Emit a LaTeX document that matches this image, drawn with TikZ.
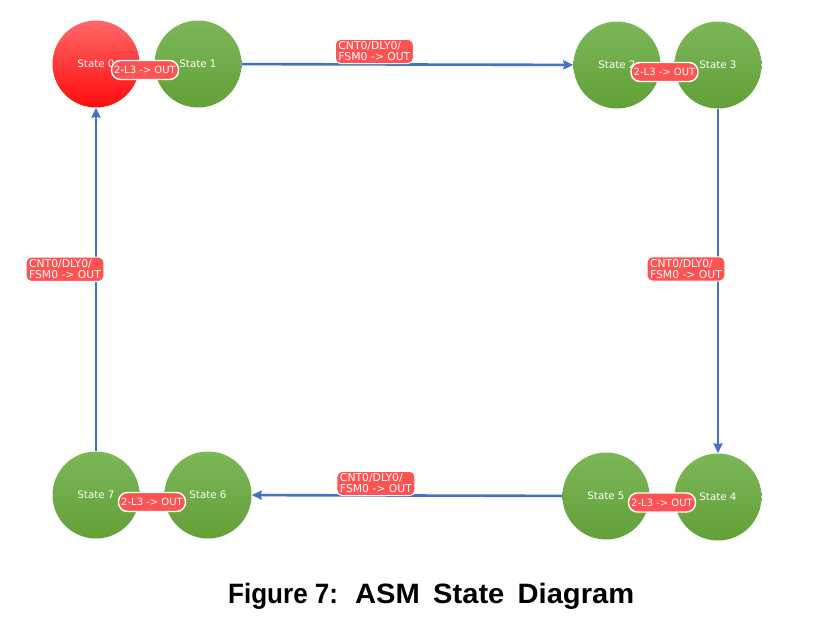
\documentclass[tikz,border=0pt]{standalone}
\usepackage{fontspec}
\setmainfont{DejaVu Sans}
\newfontfamily\capfont{Liberation Sans}
\usetikzlibrary{arrows.meta,calc}
\definecolor{greentop}{RGB}{124,183,88}
\definecolor{greenbot}{RGB}{98,160,56}
\definecolor{redtop}{RGB}{255,105,105}
\definecolor{redbot}{RGB}{255,10,10}
\definecolor{tagred}{RGB}{255,82,82}
\definecolor{linkblue}{RGB}{68,114,196}

\begin{document}
\begin{tikzpicture}[x=1pt,y=-1pt,
  state/.style={circle,minimum size=87pt,inner sep=0pt,top color=greentop,bottom color=greenbot,text=white,font=\fontsize{10.3}{10.3}\selectfont},
  startstate/.style={state,top color=redtop,bottom color=redbot},
  pairtag/.style={rounded corners=9pt,fill=tagred,draw=white,line width=1.4pt,text=white,inner sep=0pt,minimum width=67pt,minimum height=19pt,font=\fontsize{10}{10}\selectfont},
  condtag/.style={rounded corners=5pt,fill=tagred,draw=white,line width=1pt,text=white,align=left,inner xsep=3pt,inner ysep=2.5pt,font=\fontsize{10.8}{11}\selectfont},
  link/.style={draw=linkblue,line width=2.6pt,-{Stealth[length=10pt,width=9pt,inset=1pt]}},
  caption/.style={font=\capfont\bfseries\fontsize{28}{28}\selectfont,anchor=base west,inner sep=0pt}]

\useasboundingbox[fill=white] (0,0) rectangle (815,621);

% states
\node[startstate] (s0) at (96,64) {State 0};
\node[state] (s1) at (198,64) {State 1};
\node[state] (s2) at (617,65) {State 2};
\node[state] (s3) at (718,65) {State 3};
\node[state] (s4) at (718,497) {State 4};
\node[state] (s5) at (606,496) {State 5};
\node[state] (s6) at (208,495) {State 6};
\node[state] (s7) at (96,495) {State 7};

% tags between paired states
\node[pairtag] (p01) at ($(s0)!.5!(s1)+(-2,6)$) {2-L3 -> OUT};
\node[pairtag] (p23) at ($(s2)!.5!(s3)+(-3,7)$) {2-L3 -> OUT};
\node[pairtag] (p54) at ($(s5)!.5!(s4)+(0,6)$) {2-L3 -> OUT};
\node[pairtag] (p76) at ($(s7)!.5!(s6)+(0,7)$) {2-L3 -> OUT};

% transitions
\draw[link] (s1) -- node[condtag,pos=.4,yshift=13pt] (c12) {CNT0/DLY0/\\FSM0 -> OUT} (s2);
\draw[link] (s3) -- node[condtag,pos=.465,xshift=-32pt] (c34) {CNT0/DLY0/\\FSM0 -> OUT} (s4);
\draw[link] (s5) -- node[condtag,pos=.6,yshift=12pt] (c56) {CNT0/DLY0/\\FSM0 -> OUT} (s6);
\draw[link] (s7) -- node[condtag,pos=.53,xshift=-31pt] (c70) {CNT0/DLY0/\\FSM0 -> OUT} (s0);

\node[caption,xscale=.93] (fig) at (228,603) {Figure 7:};
\node[caption,xscale=1.04] (title) at (355,603) {ASM\hspace{5pt} State\hspace{5pt} Diagram};

\end{tikzpicture}
\end{document}
